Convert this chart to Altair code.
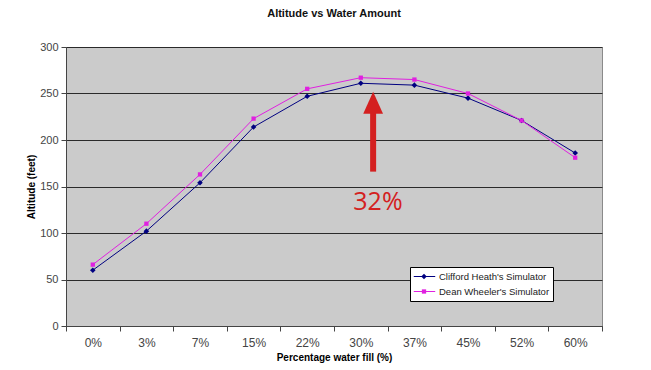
import altair as alt
import pandas as pd

cats = ["0%", "3%", "7%", "15%", "22%", "30%", "37%", "45%", "52%", "60%"]
clifford = [60, 102, 154, 214, 247, 261, 259, 245, 221, 186]
dean = [66, 110, 163, 223, 255, 267, 265, 250, 221, 181]
series_names = ["Clifford Heath's Simulator", "Dean Wheeler's Simulator"]
series_colors = ["#000080", "#e020e0"]

# annotation (arrow at ~32% fill)
arrow_x = [5.23]
arrow_tail = [166]
arrow_head_base = [232]
arrow_tip_center = [240]
note_x = [5.32]
note_y = [133]
note_text = ["32%"]

rows = []
for i, c in enumerate(cats):
    rows.append({"idx": i, "cat": c, "series": series_names[0], "mk": series_names[0], "alt": clifford[i]})
    rows.append({"idx": i, "cat": c, "series": series_names[1], "mk": series_names[1], "alt": dean[i]})
df = pd.DataFrame(rows)

tick_vals = [i - 0.5 for i in range(len(cats) + 1)]
label_expr = "[" + ",".join("'" + c + "'" for c in cats) + ",''][floor(datum.value + 0.5)]"

W, H = 536, 279
band = W / len(cats)

xscale = alt.Scale(domain=[-0.5, len(cats) - 0.5], nice=False, zero=False)
yscale = alt.Scale(domain=[0, 300], nice=False)

xaxis = alt.Axis(values=tick_vals, labelExpr=label_expr, labelOffset=band / 2,
                 labelFlush=False, labelOverlap=False,
                 grid=False, title="Percentage water fill (%)", tickSize=5,
                 labelFontSize=12, labelColor="#444", labelPadding=6,
                 titleFontSize=10, titleFontWeight="bold", titlePadding=4,
                 domainColor="#444", tickColor="#444")
yaxis = alt.Axis(values=list(range(0, 301, 50)), grid=True, gridColor="#2a2a2a",
                 gridWidth=1, title="Altitude (feet)", tickSize=5,
                 labelFontSize=11, labelColor="#444", labelPadding=3,
                 titleFontSize=10, titleFontWeight="bold", titlePadding=3,
                 domainColor="#444", tickColor="#444")

legend_common = dict(title=None, orient="none", legendX=344, legendY=220, padding=3,
                     labelFontSize=9.5, rowPadding=2, labelLimit=200, clipHeight=13,
                     symbolSize=460, symbolOffset=0, labelOffset=3, columnPadding=0)

color = alt.Color("series:N", scale=alt.Scale(domain=series_names, range=series_colors),
                  legend=alt.Legend(fillColor="white", strokeColor="#000", labelColor="#222",
                                    symbolType="stroke", symbolStrokeWidth=1,
                                    **legend_common))

lines = alt.Chart(df).mark_line(strokeWidth=1).encode(
    x=alt.X("idx:Q", scale=xscale, axis=xaxis),
    y=alt.Y("alt:Q", scale=yscale, axis=yaxis),
    color=color,
    detail="series:N",
)

marker_paths = ["M0,-0.26L0.26,0L0,0.26L-0.26,0Z", "M-0.2,-0.2H0.2V0.2H-0.2Z"]

points = alt.Chart(df).mark_point(filled=True, opacity=1, strokeWidth=0).encode(
    x=alt.X("idx:Q", scale=xscale),
    y=alt.Y("alt:Q", scale=yscale),
    fill=alt.Fill("mk:N", scale=alt.Scale(range=series_colors), legend=None),
    shape=alt.Shape("mk:N", scale=alt.Scale(range=marker_paths),
                    legend=alt.Legend(fillColor="transparent", strokeColor="transparent",
                                      labelColor="transparent", symbolStrokeWidth=0,
                                      **legend_common)),
    size=alt.value(460),
)

adf = pd.DataFrame({"x": arrow_x, "y1": arrow_tail, "y2": arrow_head_base, "yc": arrow_tip_center})
shaft = alt.Chart(adf).mark_rule(color="#d42020", strokeWidth=6).encode(
    x=alt.X("x:Q", scale=xscale), y=alt.Y("y1:Q", scale=yscale), y2="y2:Q")
head = alt.Chart(adf).mark_point(shape="M0,-1L0.9,1L-0.9,1Z", filled=True, color="#d42020",
                                 opacity=1, size=484).encode(
    x=alt.X("x:Q", scale=xscale), y=alt.Y("yc:Q", scale=yscale))

tdf = pd.DataFrame({"x": note_x, "y": note_y, "t": note_text})
note = alt.Chart(tdf).mark_text(color="#d42020", fontSize=25, font="Open Sans").encode(
    x=alt.X("x:Q", scale=xscale), y=alt.Y("y:Q", scale=yscale), text="t:N")

chart = alt.layer(lines, points, shaft, head, note).properties(
    width=W, height=H,
    title=alt.TitleParams("Altitude vs Water Amount", fontSize=11, fontWeight="bold",
                          color="#111", offset=22, anchor="middle"),
    autosize=alt.AutoSizeParams(type="none"),
    padding={"left": 58, "top": 39, "right": 41, "bottom": 38},
).configure(font="Liberation Sans").configure_view(
    fill="#cbcbcb", stroke="#8a8a8a", strokeWidth=1
)

chart.save("out.html", embed_options={"renderer": "svg", "actions": False})
